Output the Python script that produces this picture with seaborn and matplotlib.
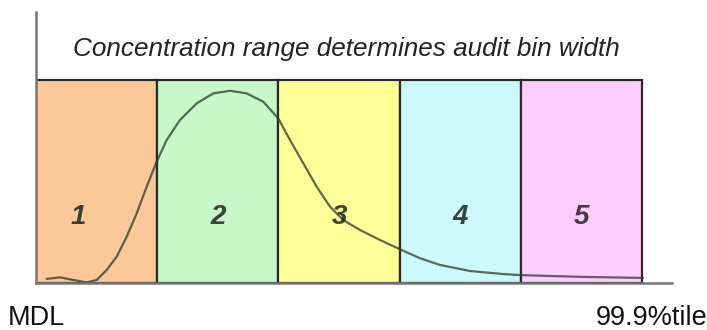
import numpy as np
import pandas as pd
import matplotlib
matplotlib.use("Agg")
import matplotlib.pyplot as plt
import matplotlib.transforms as mtransforms
import seaborn as sns

# audit bins (width 1 each, MDL .. 99.9%tile)
bin_labels = ["1", "2", "3", "4", "5"]
bin_centers = [0.5, 1.5, 2.5, 3.5, 4.5]
bin_heights = [1.0, 1.0, 1.0, 1.0, 1.0]
bin_colors = ["#FBC89A", "#C8F8C8", "#FFFF99", "#CCFAFA", "#FFCCFF"]

# concentration distribution curve
curve_x = [0.088, 0.198, 0.308, 0.418, 0.501, 0.583, 0.666, 0.748, 0.831, 0.913,
           0.990, 1.078, 1.188, 1.326, 1.463, 1.601, 1.738, 1.875, 1.999, 2.096,
           2.205, 2.316, 2.426, 2.535, 2.673, 2.838, 3.003, 3.168, 3.333, 3.581,
           3.856, 3.993, 4.513, 5.008]
curve_y = [0.020, 0.028, 0.015, 0.003, 0.015, 0.064, 0.130, 0.228, 0.343, 0.474,
           0.590, 0.704, 0.803, 0.885, 0.934, 0.947, 0.934, 0.893, 0.811, 0.704,
           0.590, 0.474, 0.376, 0.310, 0.261, 0.212, 0.166, 0.122, 0.089, 0.059,
           0.044, 0.039, 0.030, 0.025]

edges = [0, 1, 2, 3, 4, 5]
edge_labels = ["MDL", "", "", "", "", "99.9%tile"]

title = "Concentration range determines audit bin width"

sns.set_style("white")
plt.rcParams['font.family'] = ['Liberation Sans', 'DejaVu Sans']

fig = plt.figure(figsize=(7.07, 3.30), dpi=100)
ax = fig.add_axes([36 / 707, 47 / 330, 636 / 707, 271 / 330])

bins = pd.DataFrame({"x": bin_centers, "h": bin_heights, "lab": bin_labels})
sns.barplot(data=bins, x="x", y="h", hue="lab", palette=bin_colors, native_scale=True,
            width=1.0, saturation=1, legend=False, edgecolor="#2a2a2a", linewidth=1.6, ax=ax)

sns.lineplot(x=curve_x, y=curve_y, color="#2a3a2c", alpha=0.75, linewidth=1.6, ax=ax)

for lab, cx in zip(bin_labels, bin_centers):
    off = -0.15 if lab == "1" else 0
    ax.text(cx + off, 0.325, lab, ha="center", va="center", fontsize=20,
            fontstyle="italic", fontweight="bold", color="#222222", alpha=0.85)

ax.set_xlim(0, 636 * 5 / 606)
ax.set_ylim(0, 271 / 203)
ax.set_xticks(edges)
ax.set_xticklabels(edge_labels, fontsize=19.5, color="#111111")
ax.set_yticks([])
ax.set_xlabel("")
ax.set_ylabel("")
ax.tick_params(axis="x", direction="out", length=9, width=1.5, color="#666666", pad=7)

# push the right label a little so it ends at the figure edge
last = ax.get_xticklabels()[-1]
last.set_transform(last.get_transform() + mtransforms.ScaledTranslation(10 / 100, 0, fig.dpi_scale_trans))

for s in ["top", "right"]:
    ax.spines[s].set_visible(False)
for s in ["left", "bottom"]:
    ax.spines[s].set_color("#777777")
    ax.spines[s].set_linewidth(1.8)

fig.text(346 / 707, 1 - 49 / 330, title, ha="center", va="center", fontsize=18.8,
         fontstyle="italic", color="#222222")

fig.savefig("out.png", dpi=100)
